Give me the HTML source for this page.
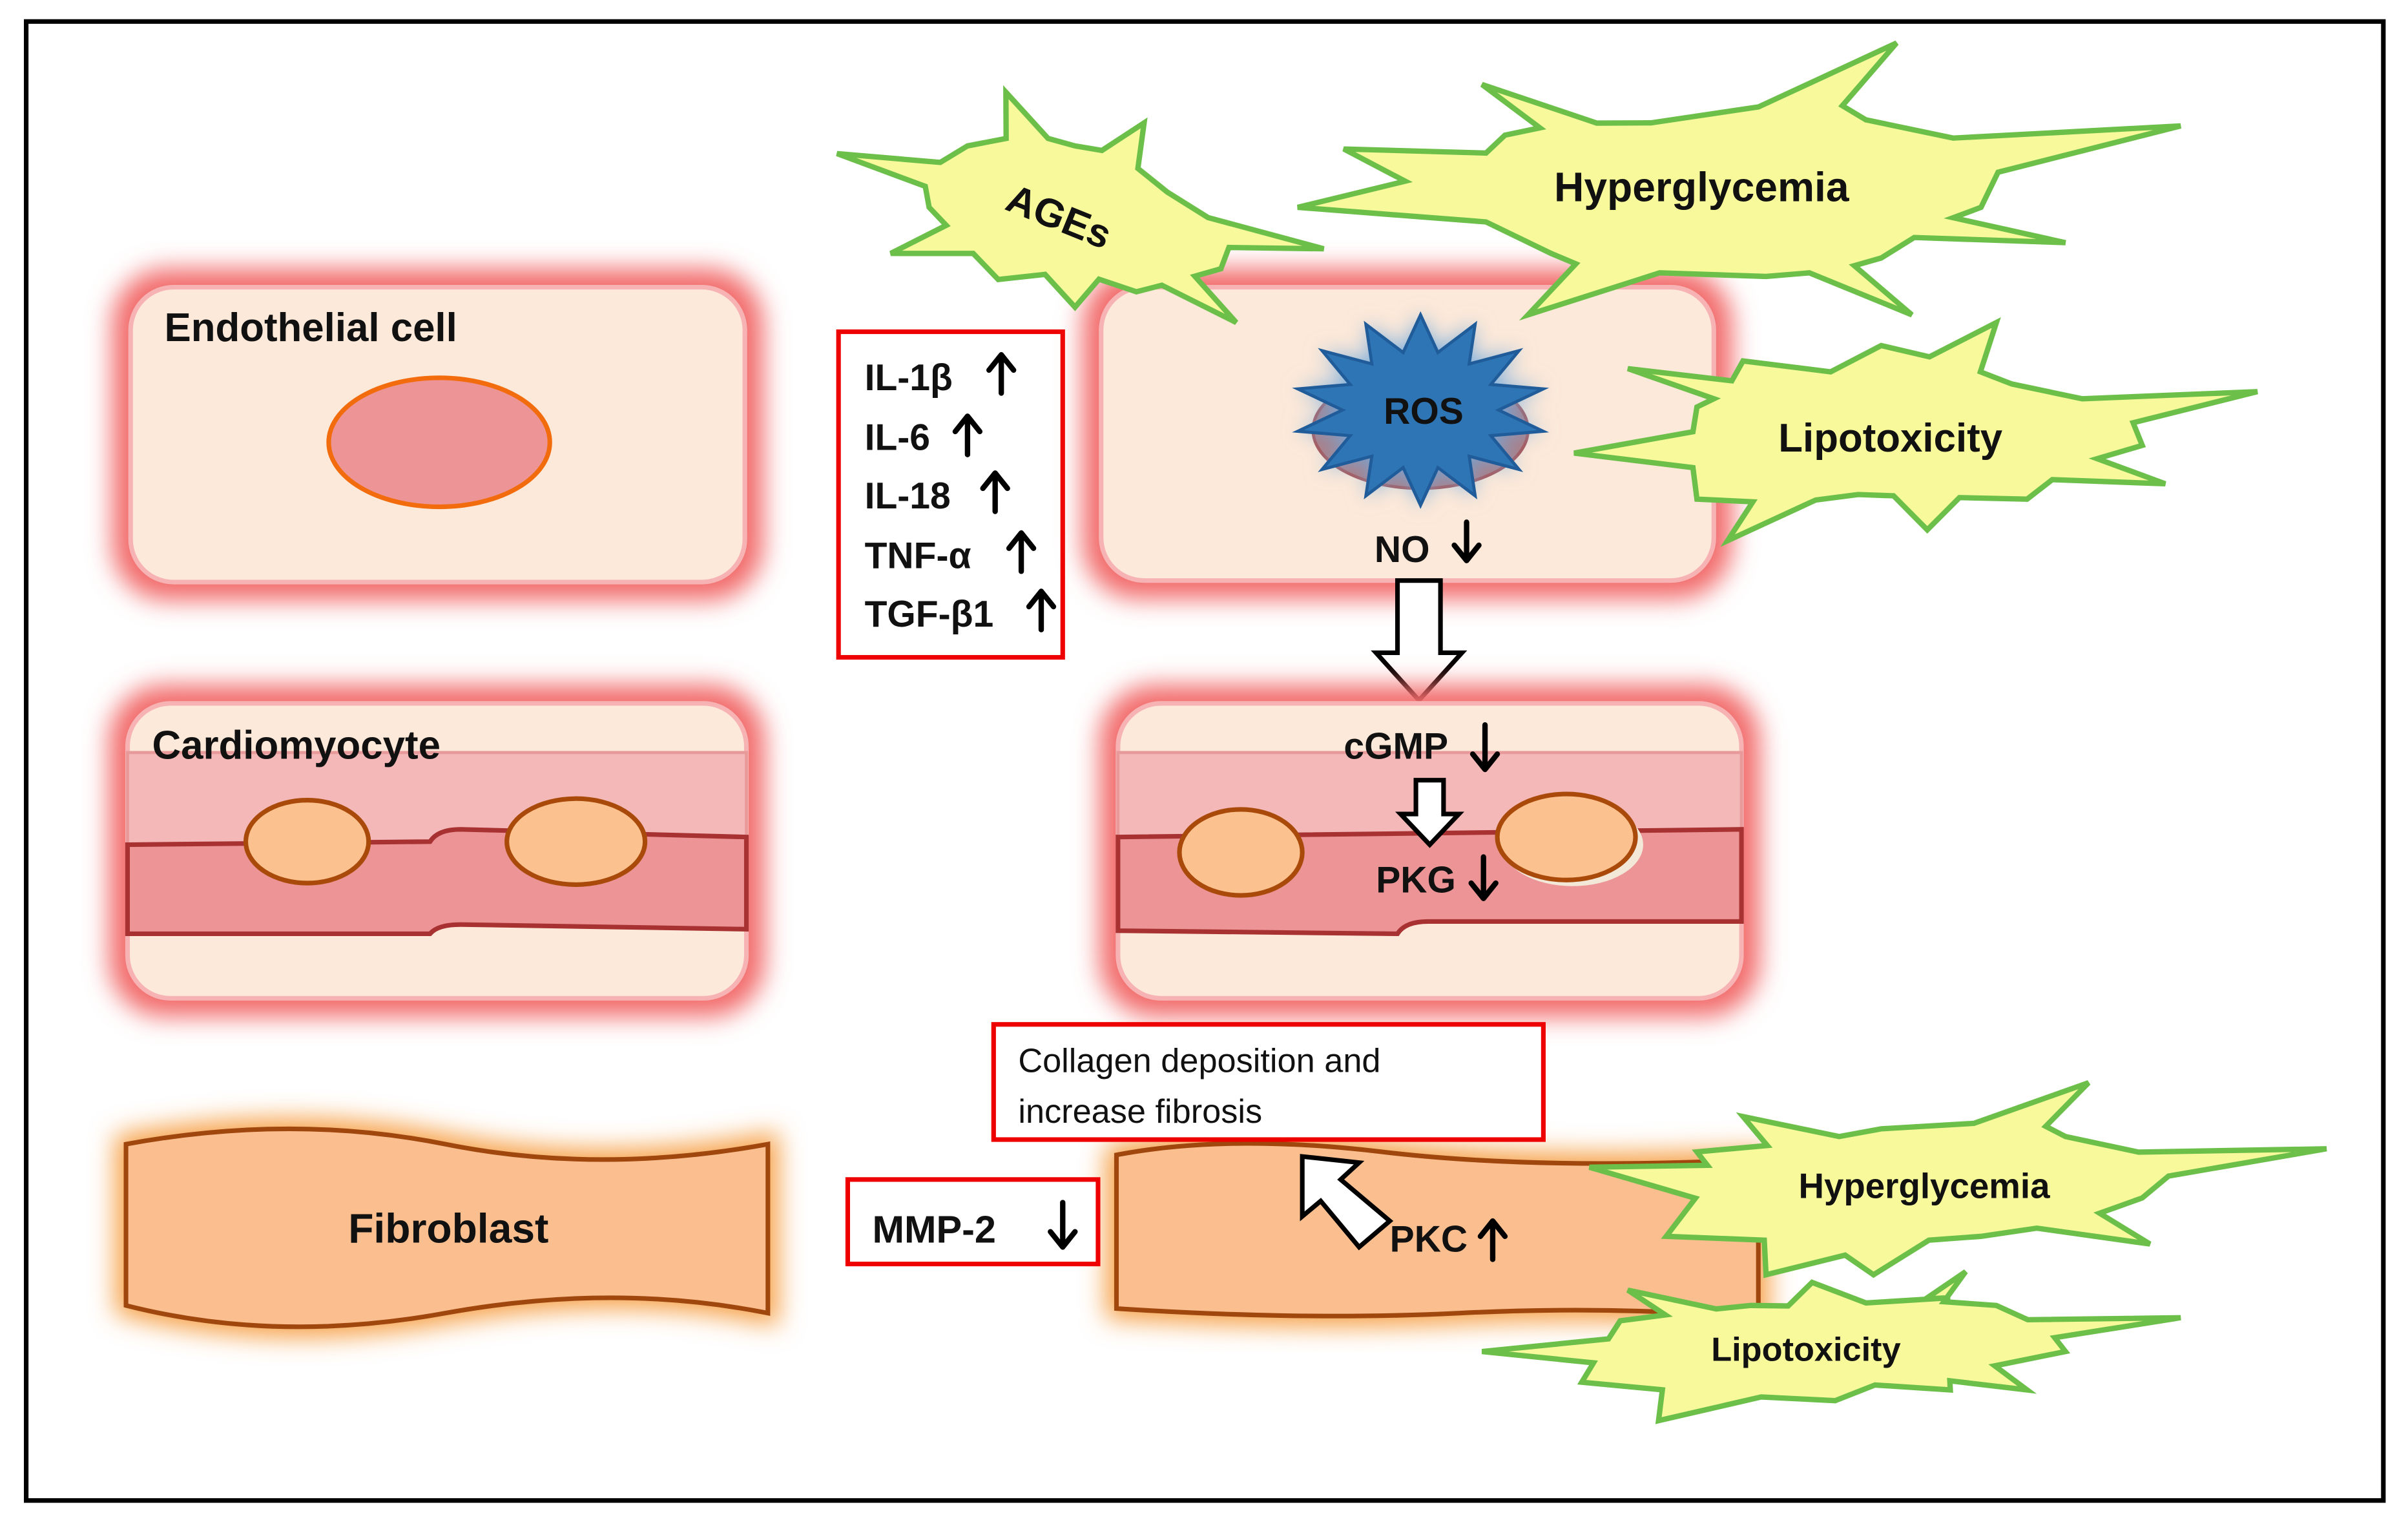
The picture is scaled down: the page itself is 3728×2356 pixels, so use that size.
<!DOCTYPE html>
<html><head><meta charset="utf-8"><style>
html,body{margin:0;padding:0;background:#fff;}
svg{display:block;}
text{font-family:"Liberation Sans","DejaVu Sans",sans-serif;font-weight:bold;fill:#111;}
</style></head><body>
<svg id="s" width="3728" height="2356" viewBox="0 0 1568 991" xmlns="http://www.w3.org/2000/svg">
<defs>
<filter id="g" x="-20%" y="-20%" width="140%" height="140%"><feGaussianBlur stdDeviation="8"/></filter>
<filter id="g3" x="-40%" y="-40%" width="180%" height="180%"><feGaussianBlur stdDeviation="7"/></filter>
<marker id="ah" viewBox="0 0 10 10" refX="5" refY="2" markerWidth="5" markerHeight="5" orient="auto-start-reverse" markerUnits="userSpaceOnUse">
</marker>
</defs>
<rect x="17" y="14" width="1535" height="963" fill="#fff" stroke="#000" stroke-width="3"/>

<!-- left endothelial -->
<rect x="73" y="175" width="424" height="216" rx="36" fill="#f26a6a" filter="url(#g)"/>
<rect x="85" y="187" width="400" height="192" rx="28" fill="#fde9d9" stroke="#f7b3b3" stroke-width="3"/>
<text x="107" y="222" font-size="26">Endothelial cell</text>
<ellipse cx="286" cy="288" rx="72" ry="42" fill="#ec9496" stroke="#f26c0e" stroke-width="3"/>

<!-- left cardiomyocyte -->
<rect x="71" y="446" width="427" height="216" rx="36" fill="#f26a6a" filter="url(#g)"/>
<rect x="83" y="458" width="403" height="192" rx="28" fill="#fde9d9" stroke="#f7b3b3" stroke-width="3"/>
<path d="M83 490 L486 490 L486 545 L83 550 Z" fill="#f4b8b8" stroke="#e89a9a" stroke-width="2"/>
<path d="M83 550 L280 548 Q285 540 300 540 L486 545 L486 605 L300 602 Q285 602 280 608 L83 608 Z" fill="#ec9496" stroke="#a83232" stroke-width="3"/>
<text x="99" y="494" font-size="26">Cardiomyocyte</text>
<ellipse cx="200" cy="548" rx="40" ry="27" fill="#fbc28f" stroke="#a94a0a" stroke-width="3"/>
<ellipse cx="375" cy="548" rx="45" ry="28" fill="#fbc28f" stroke="#a94a0a" stroke-width="3"/>

<!-- left fibroblast -->
<path d="M82 745 Q190 725 290 745 T500 745 L500 855 Q400 835 290 855 T82 850 Z" fill="#f6a14a" stroke="#f6a14a" stroke-width="14" filter="url(#g)"/>
<path d="M82 745 Q190 725 290 745 T500 745 L500 855 Q400 835 290 855 T82 850 Z" fill="#fbbf8f" stroke="#a0470e" stroke-width="3"/>
<text x="292" y="809" font-size="27" text-anchor="middle">Fibroblast</text>

<!-- cytokines -->
<rect x="546" y="216" width="146" height="212" fill="#fff" stroke="#e00" stroke-width="3"/>
<text x="563" y="254" font-size="24">IL-1β</text>
<text x="563" y="293" font-size="24">IL-6</text>
<text x="563" y="331" font-size="24">IL-18</text>
<text x="563" y="370" font-size="24">TNF-α</text>
<text x="563" y="408" font-size="24">TGF-β1</text>

<!-- right endothelial -->
<rect x="705" y="175" width="423" height="215" rx="36" fill="#f26a6a" filter="url(#g)"/>
<rect x="717" y="187" width="399" height="191" rx="28" fill="#fde9d9" stroke="#f7b3b3" stroke-width="3"/>
<ellipse cx="925" cy="280" rx="70" ry="38" fill="#b07c80" stroke="#a55" stroke-width="2"/>
<polygon id="rosg" fill="#6fa8dc" filter="url(#g3)"/>
<polygon id="ros" fill="#2e75b6" stroke="#1f5c99" stroke-width="2"/>
<text x="927" y="276" font-size="24" text-anchor="middle">ROS</text>
<text x="895" y="366" font-size="24">NO</text>
<path d="M910 378 L938 378 L938 425 L952 425 L924 456 L896 425 L910 425 Z" fill="#fff" stroke="#000" stroke-width="3"/>

<!-- right cardiomyocyte -->
<rect x="716" y="446" width="430" height="216" rx="36" fill="#f26a6a" filter="url(#g)"/>
<rect x="728" y="458" width="406" height="192" rx="28" fill="#fde9d9" stroke="#f7b3b3" stroke-width="3"/>
<path d="M728 490 L1134 490 L1134 545 L728 550 Z" fill="#f4b8b8" stroke="#e89a9a" stroke-width="2"/>
<path d="M728 545 L1134 540 L1134 600 L930 600 Q915 600 910 608 L728 606 Z" fill="#ec9496" stroke="#a83232" stroke-width="3"/>
<ellipse cx="808" cy="555" rx="40" ry="28" fill="#fbc28f" stroke="#a94a0a" stroke-width="3"/>
<ellipse cx="1024" cy="550" rx="46" ry="27" fill="#f3e8d8"/>
<ellipse cx="1020" cy="545" rx="45" ry="28" fill="#fbc28f" stroke="#a94a0a" stroke-width="3"/>
<text x="875" y="494" font-size="24">cGMP</text>
<path d="M922 508 L940 508 L940 530 L950 530 L931 550 L912 530 L922 530 Z" fill="#fff" stroke="#000" stroke-width="3"/>
<text x="896" y="581" font-size="24">PKG</text>

<!-- right fibroblast -->
<path d="M727 752 Q800 738 900 750 T1145 755 L1145 858 Q1050 850 950 855 T727 852 Z" fill="#f6a14a" stroke="#f6a14a" stroke-width="14" filter="url(#g)"/>
<path d="M727 752 Q800 738 900 750 T1145 755 L1145 858 Q1050 850 950 855 T727 852 Z" fill="#fbbf8f" stroke="#a0470e" stroke-width="3"/>
<path d="M905 795 L885 812 L860 782 L848 792 L848 753 L885 757 L873 768 Z" fill="#fff" stroke="#000" stroke-width="3"/>
<text x="905" y="815" font-size="24">PKC</text>

<!-- collagen box -->
<rect x="647" y="667" width="358" height="75" fill="#fff" stroke="#e00" stroke-width="3"/>
<text x="663" y="698" font-size="22" style="font-weight:normal">Collagen deposition and</text>
<text x="663" y="731" font-size="22" style="font-weight:normal">increase fibrosis</text>

<!-- MMP-2 -->
<rect x="552" y="768" width="163" height="55" fill="#fff" stroke="#e00" stroke-width="3"/>
<text x="568" y="809" font-size="25">MMP-2</text>

<!-- arrows -->
<g stroke="#000" stroke-width="3.5" fill="none" stroke-linecap="round" stroke-linejoin="round">
<path class="au" d="M652 256 V232 M644 241 L652 231 L660 241"/>
<path d="M630 296 V272 M622 281 L630 271 L638 281"/>
<path d="M648 333 V309 M640 318 L648 308 L656 318"/>
<path d="M665 372 V348 M657 357 L665 347 L673 357"/>
<path d="M678 410 V386 M670 395 L678 385 L686 395"/>
<path d="M955 340 V364 M947 355 L955 365 L963 355"/>
<path d="M967 472 V500 M959 491 L967 501 L975 491"/>
<path d="M966 558 V584 M958 575 L966 585 L974 575"/>
<path d="M972 820 V796 M964 805 L972 795 L980 805"/>
<path d="M692 783 V811 M684 802 L692 812 L700 802"/>
</g>

<!-- stars -->
<polygon class="st" data-c="700,135" data-p="545,100 630,95 655,60 700,95 745,80 760,125 862,162 795,175 805,210 740,190 700,200 650,182 580,165 605,135"/>
<polygon class="st" data-c="1110,125" data-p="875,97 980,88 965,55 1075,80 1235,28 1215,78 1420,82 1290,135 1345,158 1225,168 1245,205 1150,180 995,205 1010,165 845,135"/>
<polygon class="st" data-c="1235,285" data-p="1025,295 1105,265 1060,240 1135,235 1225,225 1300,210 1310,250 1470,255 1395,290 1410,315 1320,325 1255,345 1210,322 1125,352 1105,325"/>
<polygon class="st" data-c="1260,772" data-p="1035,760 1105,750 1135,727 1225,735 1360,705 1345,740 1515,748 1395,780 1400,810 1290,805 1220,830 1150,830 1085,805"/>
<polygon class="st" data-c="1180,878" data-p="965,880 1055,860 1060,840 1140,850 1180,835 1270,845 1280,828 1300,850 1420,858 1345,880 1320,905 1270,905 1195,912 1080,925 1030,900"/>

<text x="690" y="150" font-size="26" text-anchor="middle" transform="rotate(22 690 140)">AGEs</text>
<text x="1108" y="131" font-size="27" text-anchor="middle">Hyperglycemia</text>
<text x="1231" y="294" font-size="26" text-anchor="middle">Lipotoxicity</text>
<text x="1253" y="780" font-size="23" text-anchor="middle">Hyperglycemia</text>
<text x="1176" y="886" font-size="22" text-anchor="middle">Lipotoxicity</text>
</svg>
<script>
document.querySelectorAll('.st').forEach(function(p){
 var c=p.getAttribute('data-c').split(',').map(Number);
 var pts=p.getAttribute('data-p').trim().split(/\s+/).map(function(s){return s.split(',').map(Number);});
 var out=[];
 for(var i=0;i<pts.length;i++){
  var a=pts[i],b=pts[(i+1)%pts.length];
  out.push(a[0]+','+a[1]);
  var mx=(a[0]+b[0])/2,my=(a[1]+b[1])/2;
  var k=0.78;
  out.push((c[0]+(mx-c[0])*k)+','+(c[1]+(my-c[1])*k));
 }
 p.setAttribute('points',out.join(' '));
 p.setAttribute('fill','#f8f99a');p.setAttribute('stroke','#6cc04a');p.setAttribute('stroke-width','3.5');
});
(function(){
 var cx=925,cy=267,n=14,o=[];
 for(var i=0;i<2*n;i++){
  var a=i*Math.PI/n-Math.PI/2, r=(i%2==0)?1:0.62;
  o.push((cx+Math.cos(a)*82*r)+','+(cy+Math.sin(a)*62*r));
 }
 document.getElementById('ros').setAttribute('points',o.join(' '));
 document.getElementById('rosg').setAttribute('points',o.join(' '));
})();
</script>
</body></html>
